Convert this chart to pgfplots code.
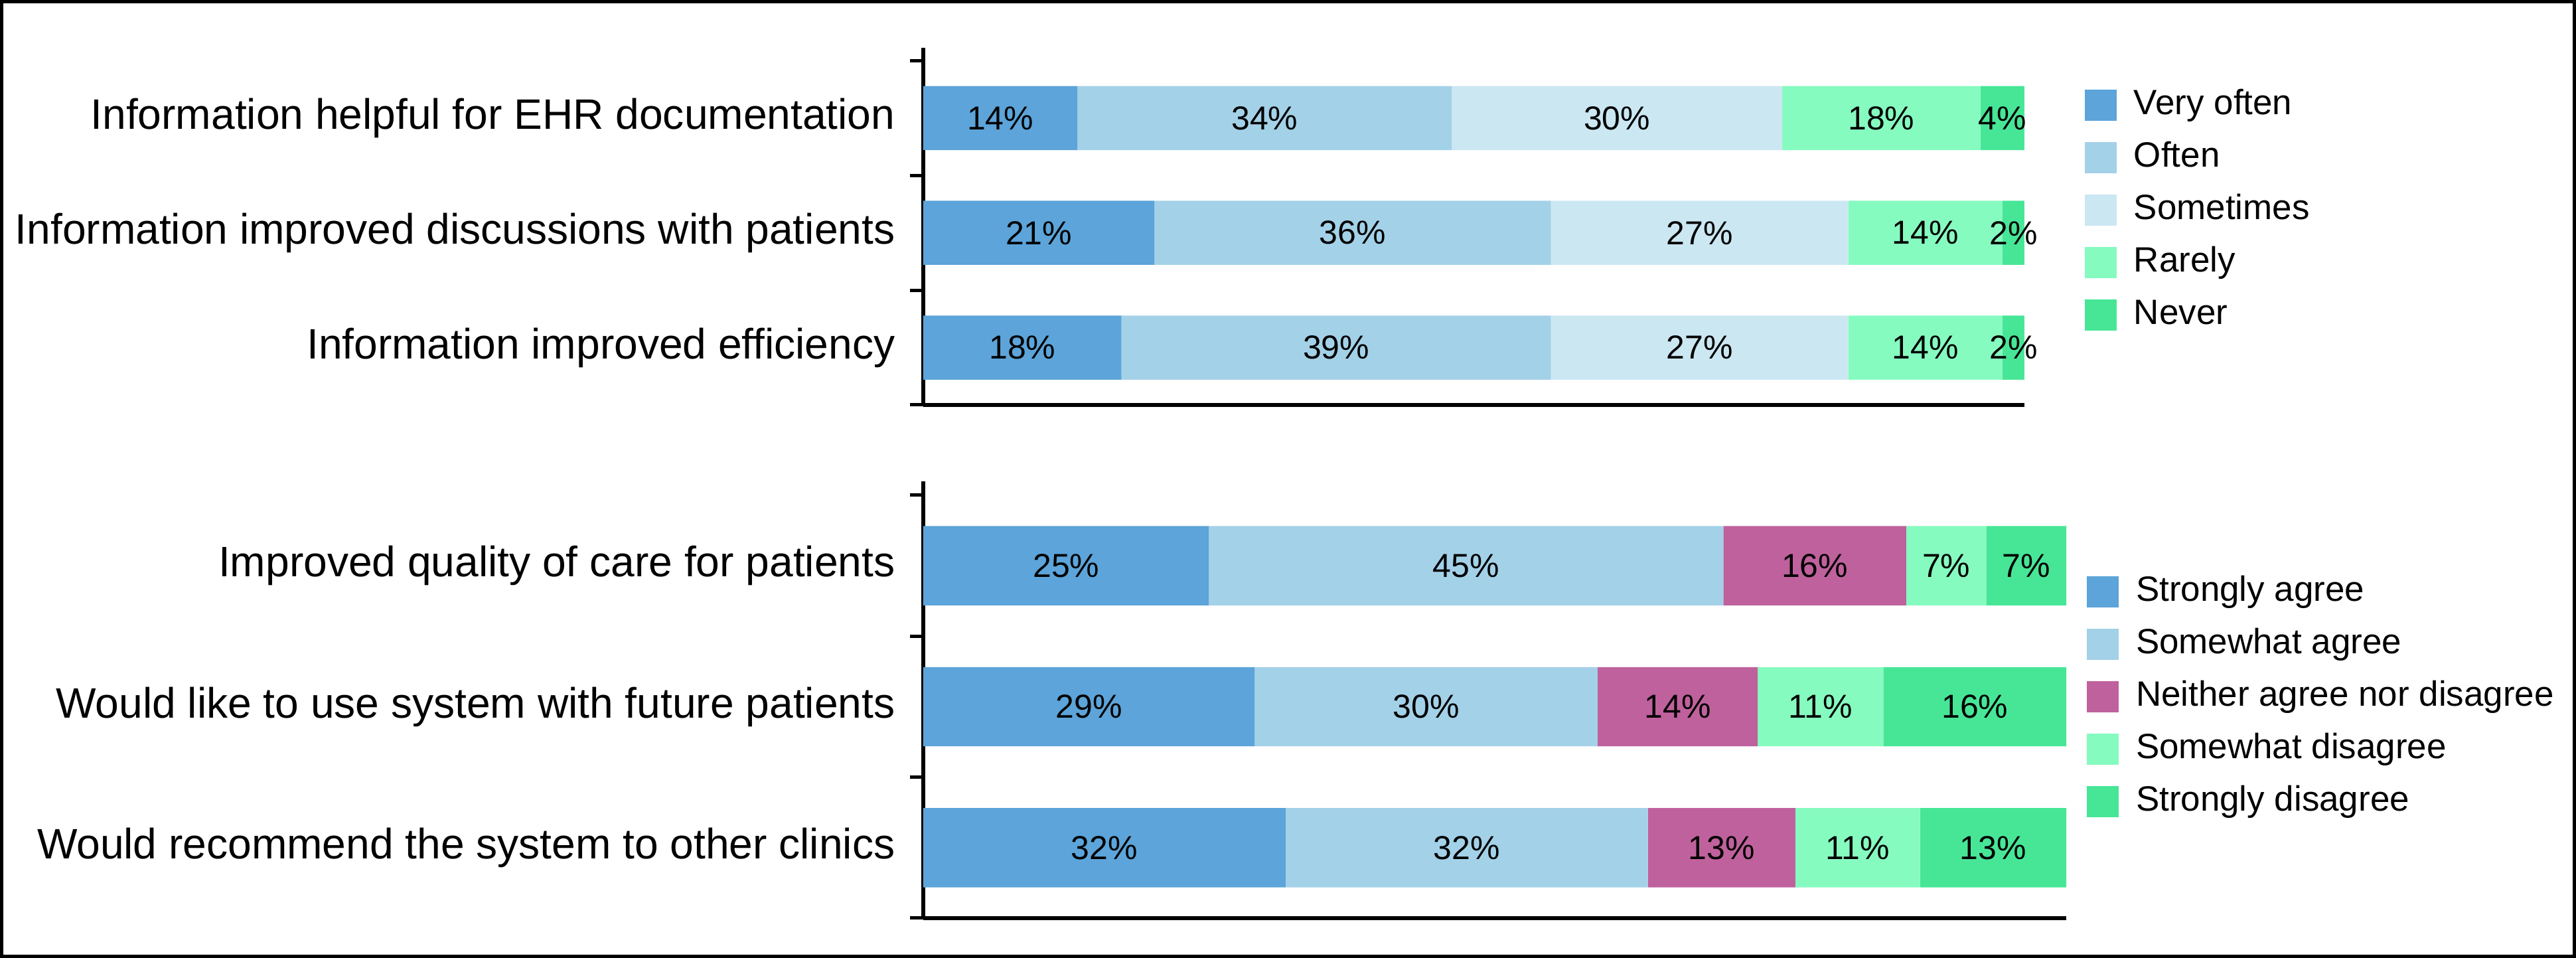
\documentclass[border=0pt]{standalone}
\usepackage{fontspec}
\setmainfont{Liberation Sans}
\usepackage{pgfplots}
\pgfplotsset{compat=1.18}
\usepackage{pgfplotstable}

\definecolor{cVO}{RGB}{92,164,217}
\definecolor{cOF}{RGB}{163,209,232}
\definecolor{cSO}{RGB}{203,231,242}
\definecolor{cRA}{RGB}{134,251,192}
\definecolor{cNE}{RGB}{71,230,151}
\definecolor{cNA}{RGB}{191,97,157}

% top panel: y=2 EHR, y=1 discussions, y=0 efficiency
\pgfplotstableread{
y  vo  of  so  ra  ne
2  14  34  30  18  4
1  21  36  27  14  2
0  18  39  27  14  2
}\freqdata
\pgfplotstableread{
x     y  lab
7     2  14
31    2  34
63    2  30
87    2  18
98    2  4
10.5  1  21
39    1  36
70.5  1  27
91    1  14
99    1  2
9     0  18
37.5  0  39
70.5  0  27
91    0  14
99    0  2
}\freqlabels

% bottom panel: y=2 quality, y=1 future, y=0 recommend
\pgfplotstableread{
y  sa    wa    na    wd    sd
2  25    45    16    7     7
1  29    30    14    11    16
0  31.7  31.7  12.9  10.9  12.8
}\agreedata
\pgfplotstableread{
x      y  lab
12.5   2  25
47.5   2  45
78     2  16
89.5   2  7
96.5   2  7
14.5   1  29
44     1  30
66     1  14
78.5   1  11
92     1  16
15.85  0  32
47.55  0  32
69.85  0  13
81.75  0  11
93.6   0  13
}\agreelabels

\pgfplotsset{
  panel/.style={
    xbar stacked, scale only axis, anchor=north west,
    xmin=0, xmax=100, ymin=-0.5,
    axis x line*=bottom, axis y line*=left,
    axis line style={-, line width=1pt, black},
    xtick=\empty,
    ytick={-0.5,0.5,1.5,2.5}, yticklabels={},
    tick align=outside, major tick length=3.4pt,
    tick style={line width=0.85pt, black},
    extra y tick style={major tick length=0pt,
      yticklabel style={font=\fontsize{10.9}{12}\selectfont, xshift=-3.7pt}},
    legend style={draw=none, fill=none, anchor=north west, inner sep=0pt,
      font=\fontsize{9}{10}\selectfont, row sep=4.9pt,
      nodes={inner sep=0pt, text height=6.6pt, text depth=1.9pt},
      /tikz/every odd column/.style={column sep=4.4pt}},
    legend cell align=left,
    legend image code/.code={\fill[##1] (0pt,-4pt) rectangle (8.16pt,4pt);},
  },
  labels/.style={
    scale only axis, anchor=north west, hide axis, clip=false,
    xmin=0, xmax=100, ymin=-0.5,
  },
  lblplot/.style={only marks, mark=none, point meta=explicit symbolic,
    nodes near coords={\pgfplotspointmeta\%},
    every node near coord/.append style={anchor=center, inner sep=0pt,
      font=\fontsize{8.5}{8.5}\selectfont, text=black}},
}

\begin{document}
\begin{tikzpicture}
\useasboundingbox (0,0) rectangle (659.77pt,245.31pt);
\draw[line width=0.8pt] (0.4pt,0.4pt) rectangle (659.37pt,244.91pt);

% ---------- top panel ----------
\begin{axis}[panel, at={(236.47pt,233.07pt)}, width=282.03pt, height=91.46pt,
  ymax=2.613, bar width=16.4pt,
  extra y ticks={0,1,2},
  extra y tick labels={Information improved efficiency,
    Information improved discussions with patients,
    Information helpful for EHR documentation},
  legend style={at={(axis description cs:1.0542,0.887)}}]
\addplot[fill=cVO, draw=none] table[x=vo, y=y]{\freqdata};
\addplot[fill=cOF, draw=none] table[x=of, y=y]{\freqdata};
\addplot[fill=cSO, draw=none] table[x=so, y=y]{\freqdata};
\addplot[fill=cRA, draw=none] table[x=ra, y=y]{\freqdata};
\addplot[fill=cNE, draw=none] table[x=ne, y=y]{\freqdata};
\legend{Very often, Often, Sometimes, Rarely, Never}
\end{axis}
\begin{axis}[labels, at={(236.47pt,233.07pt)}, width=282.03pt, height=91.46pt, ymax=2.613]
\addplot[lblplot] table[x=x, y=y, meta=lab]{\freqlabels};
\end{axis}

% ---------- bottom panel ----------
\begin{axis}[panel, at={(236.47pt,122.06pt)}, width=292.74pt, height=111.86pt,
  ymax=2.599, bar width=20.3pt,
  extra y ticks={0,1,2},
  extra y tick labels={Would recommend the system to other clinics,
    Would like to use system with future patients,
    Improved quality of care for patients},
  legend style={at={(axis description cs:1.0174,0.786)}}]
\addplot[fill=cVO, draw=none] table[x=sa, y=y]{\agreedata};
\addplot[fill=cOF, draw=none] table[x=wa, y=y]{\agreedata};
\addplot[fill=cNA, draw=none] table[x=na, y=y]{\agreedata};
\addplot[fill=cRA, draw=none] table[x=wd, y=y]{\agreedata};
\addplot[fill=cNE, draw=none] table[x=sd, y=y]{\agreedata};
\legend{Strongly agree, Somewhat agree, Neither agree nor disagree, Somewhat disagree, Strongly disagree}
\end{axis}
\begin{axis}[labels, at={(236.47pt,122.06pt)}, width=292.74pt, height=111.86pt, ymax=2.599]
\addplot[lblplot] table[x=x, y=y, meta=lab]{\agreelabels};
\end{axis}
\end{tikzpicture}
\end{document}
